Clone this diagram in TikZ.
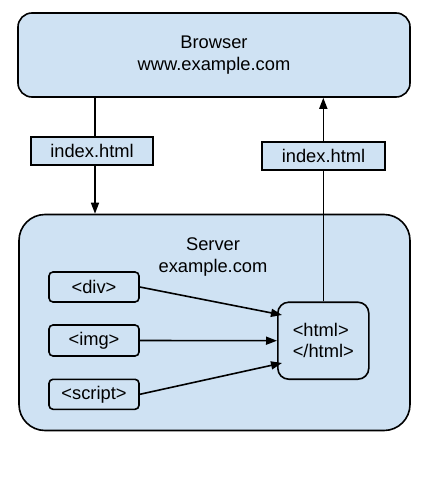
\documentclass[tikz,border=0pt]{standalone}
\usepackage{fontspec}
\setmainfont{Liberation Sans}
\usetikzlibrary{arrows.meta}
\definecolor{boxblue}{HTML}{CFE2F3}
\begin{document}
\begin{tikzpicture}[x=1pt,y=-1pt,
  font=\fontsize{18.3}{21.5}\selectfont,
  box/.style={draw=black, fill=boxblue, line width=1.6pt, inner sep=0pt, align=center},
  arr/.style={line width=1.6pt, -{Triangle[length=11pt,width=8pt]}}]
\useasboundingbox[fill=white] (0,0) rectangle (434,495);
% big boxes
\node[box, rounded corners=14pt, minimum width=392pt, minimum height=84pt] (browser) at (214,55) {Browser\\www.example.com};
\node[box, rounded corners=26pt, minimum width=391pt, minimum height=216pt] (server) at (214.5,322.5) {};
\node[align=center] (servertxt) at (213,257) {Server\\example.com};
% inner boxes
\node[box, rounded corners=4pt, minimum width=90pt, minimum height=30pt] (div) at (94,287) {<div>};
\node[box, rounded corners=4pt, minimum width=90pt, minimum height=31pt] (img) at (94,340.5) {<img>};
\node[box, rounded corners=4pt, minimum width=90pt, minimum height=30pt] (script) at (94,394.3) {<script>};
\node[box, rounded corners=11pt, minimum width=91pt, minimum height=77pt, align=left] (html) at (323.3,340.7) {<html>\\</html>};
% connectors
\coordinate (la) at (95,0);
\draw[arr] (browser.south -| la) -- (server.north -| la);
\draw[arr] (html.north) -- (html.north |- browser.south);
\draw[arr] (div.east) -- ([xshift=5pt,yshift=25.7pt]html.west);
\draw[arr] (img.east) -- (html.west);
\draw[arr] (script.east) -- ([xshift=5pt,yshift=-22.3pt]html.west);
% labels on connectors
\node[box, minimum width=122pt, minimum height=28pt] (lbl1) at (92,151) {index.html};
\node[box, minimum width=123pt, minimum height=28pt] (lbl2) at (323.5,156) {index.html};
\end{tikzpicture}
\end{document}
